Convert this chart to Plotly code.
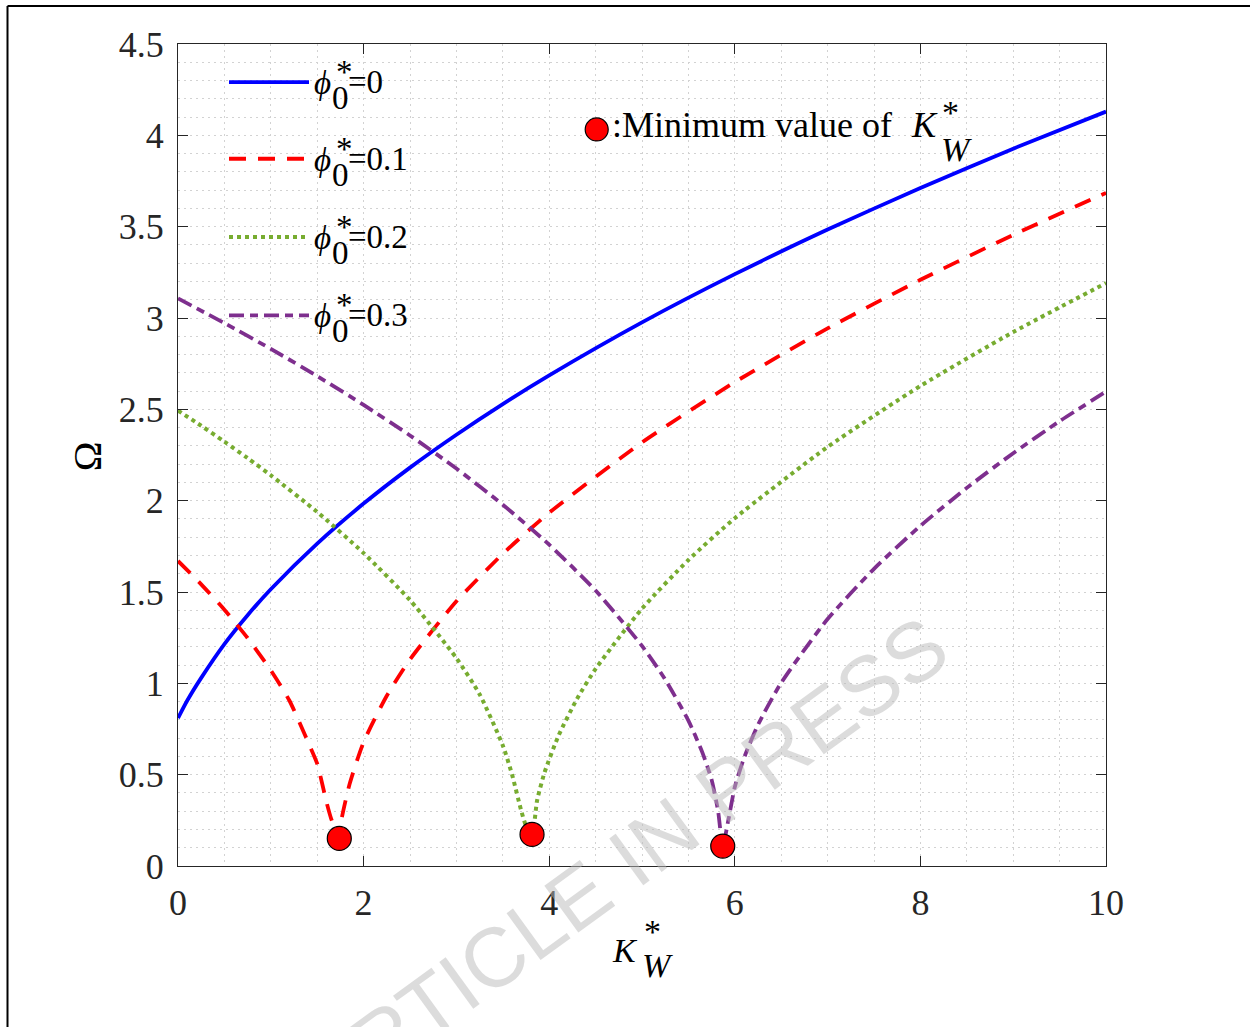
import plotly.graph_objects as go

# Dimensionless frequency Omega versus foundation stiffness K_W* for several phi_0* values
k_phi0 = [0, 0.1, 0.25, 0.5, 0.75, 1.0, 1.5, 2.0, 2.5, 3.0, 3.5, 4.0, 5.0, 6.0, 7.0, 8.0, 9.0, 10.0]
omega_phi0 = [0.81, 0.906, 1.03, 1.215, 1.373, 1.515, 1.765, 1.984, 2.181, 2.361, 2.529, 2.686,
              2.976, 3.24, 3.484, 3.712, 3.927, 4.13]

k_phi01 = [0, 0.25, 0.5, 0.75, 1.0, 1.2, 1.4, 1.5, 1.6, 1.65, 1.738, 1.76, 1.85, 2.0, 2.25, 2.5,
           3.0, 3.5, 4.0, 5.0, 6.0, 7.0, 8.0, 9.0, 10.0]
omega_phi01 = [1.670, 1.542, 1.403, 1.248, 1.071, 0.906, 0.68, 0.56, 0.35, 0.26, 0.151, 0.25, 0.45,
               0.678, 0.932, 1.131, 1.449, 1.709, 1.934, 2.319, 2.649, 2.943, 3.209, 3.455, 3.685]

k_phi02 = [0, 0.25, 0.5, 0.75, 1.0, 1.5, 2.0, 2.5, 3.0, 3.25, 3.5, 3.6, 3.7, 3.75, 3.815, 3.87,
           3.95, 4.1, 4.3, 4.5, 5.0, 5.5, 6.0, 7.0, 8.0, 9.0, 10.0]
omega_phi02 = [2.493, 2.410, 2.323, 2.233, 2.139, 1.938, 1.713, 1.455, 1.138, 0.94, 0.66, 0.50, 0.30,
               0.22, 0.173, 0.36, 0.512, 0.713, 0.915, 1.079, 1.409, 1.675, 1.904, 2.294, 2.628,
               2.923, 3.191]

k_phi03 = [0, 0.5, 1.0, 1.5, 2.0, 2.5, 3.0, 3.5, 4.0, 4.5, 5.0, 5.25, 5.5, 5.65, 5.75, 5.82, 5.87,
           5.93, 6.0, 6.1, 6.25, 6.5, 7.0, 7.5, 8.0, 8.5, 9.0, 9.5, 10.0]
omega_phi03 = [3.107, 2.972, 2.831, 2.682, 2.524, 2.357, 2.176, 1.978, 1.759, 1.508, 1.205, 1.021,
               0.796, 0.622, 0.472, 0.30, 0.109, 0.25, 0.432, 0.592, 0.773, 1.003, 1.352, 1.627,
               1.862, 2.070, 2.260, 2.435, 2.597]

# Minimum points of each curve
k_min = [1.738, 3.815, 5.87]
omega_min = [0.151, 0.173, 0.109]

series_labels = ["0", "0.1", "0.2", "0.3"]
x_ticks = [0, 2, 4, 6, 8, 10]
y_ticks = [0, 0.5, 1, 1.5, 2, 2.5, 3, 3.5, 4, 4.5]
y_tick_text = ["0", "0.5", "1", "1.5", "2", "2.5", "3", "3.5", "4", "4.5"]

styles = [
    dict(color="#0000FF", width=3.8, dash="solid"),
    dict(color="#FF0000", width=3.8, dash="17px,12px"),
    dict(color="#77AC30", width=4, dash="4px,4px"),
    dict(color="#7E2F8E", width=3.8, dash="15px,6px,8px,6px"),
]

W, H = 1250, 1027
L, R, T, B = 178, 1106, 43.5, 866


def px(xp):
    return (xp - L) / (R - L)


def py(yp):
    return (B - yp) / (B - T)


SERIF = "Liberation Serif, Times New Roman, serif"
INK = "#262626"

fig = go.Figure()
for kk, om, st in zip([k_phi0, k_phi01, k_phi02, k_phi03],
                      [omega_phi0, omega_phi01, omega_phi02, omega_phi03], styles):
    fig.add_trace(go.Scatter(x=kk, y=om, mode="lines", line=dict(**st, shape="spline", smoothing=0.6),
                             showlegend=False, hoverinfo="skip"))

fig.add_trace(go.Scatter(x=k_min, y=omega_min, mode="markers",
                         marker=dict(size=24, color="#FF0000", line=dict(color="black", width=1.2)),
                         showlegend=False, hoverinfo="skip"))

shapes = []
annotations = []


def text(s, xp, yp, size=33, italic=False, xanchor="left", angle=0, font=SERIF, color="black"):
    annotations.append(dict(
        text=f"<i>{s}</i>" if italic else s, x=px(xp), y=py(yp), xref="paper", yref="paper",
        xanchor=xanchor, yanchor="middle", showarrow=False, textangle=angle, borderpad=0,
        font=dict(family=font, size=size, color=color)))


# Legend block
legend_y = [81.7, 158.3, 236.7, 315.0]
for yc, lab, st in zip(legend_y, series_labels, styles):
    shapes.append(dict(type="line", xref="paper", yref="paper", x0=px(229), x1=px(309),
                       y0=py(yc), y1=py(yc), line=dict(color=st["color"], width=st["width"], dash=st["dash"])))
    text("ϕ", 313, yc + 1, italic=True)
    text("*", 335, yc - 10)
    text("0", 331, yc + 16)
    text("=" + lab, 347, yc)

# Marker key
shapes.append(dict(type="circle", xref="paper", yref="paper", xsizemode="pixel", ysizemode="pixel",
                   xanchor=px(596.7), yanchor=py(129), x0=-11.5, x1=11.5, y0=-11.5, y1=11.5,
                   fillcolor="#FF0000", line=dict(color="black", width=1.2)))
text(":Minimum value of", 611, 125, size=36)
text("K", 910, 125, size=36, italic=True)
text("*", 941, 112, size=34)
text("W", 940, 149, size=34, italic=True)

# Axis titles
text("Ω", 87, 456, size=40, xanchor="center", angle=-90)
text("K", 625, 951, size=34, xanchor="center", italic=True)
text("*", 643, 932, size=34)
text("W", 641, 966, size=34, italic=True)

# Watermark
annotations.append(dict(text="ARTICLE IN PRESS", x=px(626), y=py(862), xref="paper", yref="paper",
                        xanchor="center", yanchor="middle", showarrow=False, textangle=-36,
                        font=dict(family="Liberation Sans", size=84, color="rgba(185,185,185,0.5)")))

# Page frame (top and left edges)
shapes.append(dict(type="line", xref="paper", yref="paper", x0=px(7.5), x1=px(W + 5),
                   y0=py(5.5), y1=py(5.5), line=dict(color="black", width=2)))
shapes.append(dict(type="line", xref="paper", yref="paper", x0=px(7.5), x1=px(7.5),
                   y0=py(5.5), y1=py(H + 5), line=dict(color="black", width=2)))

axis_common = dict(
    showline=True, linecolor=INK, linewidth=1.3, mirror="ticks",
    ticks="inside", ticklen=10, tickwidth=1.3, tickcolor=INK,
    showgrid=False, zeroline=False,
    tickfont=dict(family=SERIF, size=36, color=INK),
)

fig.update_layout(
    width=W, height=H, autosize=False,
    margin=dict(l=L, r=W - R, t=T, b=H - B, pad=0),
    paper_bgcolor="white", plot_bgcolor="white",
    xaxis=dict(range=[0, 10], tickvals=x_ticks, ticktext=[str(v) for v in x_ticks],
               ticklabelstandoff=5,
               minor=dict(dtick=0.5, tick0=0, showgrid=True, gridcolor="#d2d2d2", griddash="1.5px,4.5px",
                          gridwidth=1, ticks=""),
               **axis_common),
    yaxis=dict(range=[0, 4.5], tickvals=y_ticks, ticktext=y_tick_text,
               ticklabelstandoff=6,
               minor=dict(dtick=0.1, tick0=0, showgrid=True, gridcolor="#d2d2d2", griddash="1.5px,4.5px",
                          gridwidth=1, ticks=""),
               **axis_common),
    shapes=shapes,
    annotations=annotations,
    showlegend=False,
)

fig.write_html("out.html")
